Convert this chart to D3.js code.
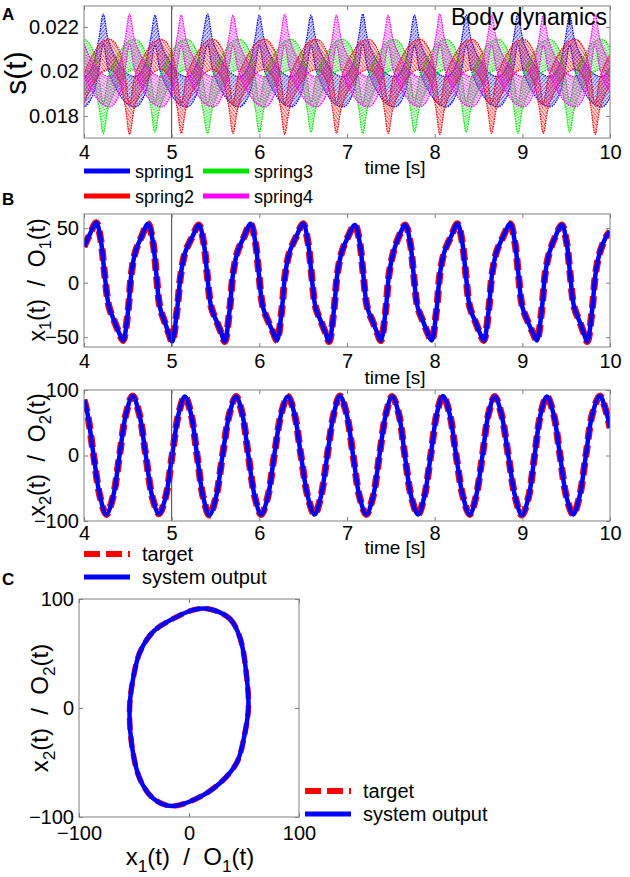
<!DOCTYPE html>
<html>
<head>
<meta charset="utf-8">
<script src="https://cdnjs.cloudflare.com/ajax/libs/d3/7.8.5/d3.min.js"></script>
<style>
  body { margin: 0; background: #fff; }
  svg { display: block; font-family: "Liberation Sans", Arial, Helvetica, sans-serif; }
  .tick text { font-size: 20px; fill: #000; }
  .domain { display: none; }
  .tick line { stroke: #808080; }
  text { white-space: pre; }
</style>
</head>
<body>
<svg id="fig" width="630" height="877"></svg>
<script>
// ---- data ----
var timeTicks = [4, 5, 6, 7, 8, 9, 10];
var sTicks = [0.018, 0.02, 0.022];
var sTickLabels = ['0.018', '0.02', '0.022'];
var x1Ticks = [-50, 0, 50];
var x2Ticks = [-100, 0, 100];
var phaseTicks = [-100, 0, 100];
var springNames = ['spring1', 'spring2', 'spring3', 'spring4'];
var outputNames = ['target', 'system output'];

// Body dynamics: centre of each spring's band [t, s]
var spring1 = [
  [3.63,.02185],[3.69,.0207],[3.79,.0198],[3.91,.0192],[4.01,.0191],[4.10,.0196],[4.17,.0208],
  [4.22,.02190],[4.28,.0207],[4.38,.0198],[4.50,.0192],[4.60,.0191],[4.69,.0196],[4.76,.0208],
  [4.81,.02185],[4.87,.0207],[4.97,.0198],[5.09,.0192],[5.19,.0191],[5.28,.0196],[5.35,.0208],
  [5.41,.02190],[5.47,.0207],[5.57,.0198],[5.69,.0192],[5.79,.0191],[5.88,.0196],[5.95,.0208],
  [6.00,.02185],[6.06,.0207],[6.16,.0198],[6.28,.0192],[6.38,.0191],[6.47,.0196],[6.54,.0208],
  [6.59,.02185],[6.65,.0207],[6.75,.0198],[6.87,.0192],[6.97,.0191],[7.06,.0196],[7.13,.0208],
  [7.18,.02190],[7.24,.0207],[7.34,.0198],[7.46,.0192],[7.56,.0191],[7.65,.0196],[7.72,.0208],
  [7.77,.02185],[7.83,.0207],[7.93,.0198],[8.05,.0192],[8.15,.0191],[8.24,.0196],[8.31,.0208],
  [8.36,.02185],[8.42,.0207],[8.52,.0198],[8.64,.0192],[8.74,.0191],[8.83,.0196],[8.90,.0208],
  [8.95,.02190],[9.01,.0207],[9.11,.0198],[9.23,.0192],[9.33,.0191],[9.42,.0196],[9.49,.0208],
  [9.54,.02185],[9.60,.0207],[9.70,.0198],[9.82,.0192],[9.92,.0191],[10.01,.0196],[10.08,.0208],
  [10.13,.02185]
];
var spring3 = [
  [3.63,.01795],[3.69,.0191],[3.79,.0200],[3.91,.02065],[4.01,.02075],[4.10,.0203],[4.17,.0191],
  [4.22,.01790],[4.28,.0191],[4.38,.0200],[4.50,.02065],[4.60,.02075],[4.69,.0203],[4.76,.0191],
  [4.81,.01795],[4.87,.0191],[4.97,.0200],[5.09,.02065],[5.19,.02075],[5.28,.0203],[5.35,.0191],
  [5.41,.01790],[5.47,.0191],[5.57,.0200],[5.69,.02065],[5.79,.02075],[5.88,.0203],[5.95,.0191],
  [6.00,.01795],[6.06,.0191],[6.16,.0200],[6.28,.02065],[6.38,.02075],[6.47,.0203],[6.54,.0191],
  [6.59,.01795],[6.65,.0191],[6.75,.0200],[6.87,.02065],[6.97,.02075],[7.06,.0203],[7.13,.0191],
  [7.18,.01790],[7.24,.0191],[7.34,.0200],[7.46,.02065],[7.56,.02075],[7.65,.0203],[7.72,.0191],
  [7.77,.01795],[7.83,.0191],[7.93,.0200],[8.05,.02065],[8.15,.02075],[8.24,.0203],[8.31,.0191],
  [8.36,.01795],[8.42,.0191],[8.52,.0200],[8.64,.02065],[8.74,.02075],[8.83,.0203],[8.90,.0191],
  [8.95,.01790],[9.01,.0191],[9.11,.0200],[9.23,.02065],[9.33,.02075],[9.42,.0203],[9.49,.0191],
  [9.54,.01795],[9.60,.0191],[9.70,.0200],[9.82,.02065],[9.92,.02075],[10.01,.0203],[10.08,.0191],
  [10.13,.01795]
];
var spring4 = [
  [3.93,.02185],[3.99,.0207],[4.09,.0198],[4.21,.0192],[4.31,.0191],[4.40,.0196],[4.47,.0208],
  [4.52,.02190],[4.58,.0207],[4.68,.0198],[4.80,.0192],[4.90,.0191],[4.99,.0196],[5.06,.0208],
  [5.11,.02185],[5.17,.0207],[5.27,.0198],[5.39,.0192],[5.49,.0191],[5.58,.0196],[5.65,.0208],
  [5.70,.02185],[5.76,.0207],[5.86,.0198],[5.98,.0192],[6.08,.0191],[6.17,.0196],[6.24,.0208],
  [6.29,.02190],[6.35,.0207],[6.45,.0198],[6.57,.0192],[6.67,.0191],[6.76,.0196],[6.83,.0208],
  [6.88,.02185],[6.94,.0207],[7.04,.0198],[7.16,.0192],[7.26,.0191],[7.35,.0196],[7.42,.0208],
  [7.47,.02185],[7.53,.0207],[7.63,.0198],[7.75,.0192],[7.85,.0191],[7.94,.0196],[8.01,.0208],
  [8.06,.02190],[8.12,.0207],[8.22,.0198],[8.34,.0192],[8.44,.0191],[8.53,.0196],[8.60,.0208],
  [8.65,.02185],[8.71,.0207],[8.81,.0198],[8.93,.0192],[9.03,.0191],[9.12,.0196],[9.19,.0208],
  [9.24,.02185],[9.30,.0207],[9.40,.0198],[9.52,.0192],[9.62,.0191],[9.71,.0196],[9.78,.0208],
  [9.83,.02190],[9.89,.0207],[9.99,.0198],[10.11,.0192]
];
var spring2 = [
  [3.93,.01795],[3.99,.0191],[4.09,.0200],[4.21,.02065],[4.31,.02075],[4.40,.0203],[4.47,.0191],
  [4.52,.01785],[4.58,.0191],[4.68,.0200],[4.80,.02065],[4.90,.02075],[4.99,.0203],[5.06,.0191],
  [5.11,.01790],[5.17,.0191],[5.27,.0200],[5.39,.02065],[5.49,.02075],[5.58,.0203],[5.65,.0191],
  [5.70,.01790],[5.76,.0191],[5.86,.0200],[5.98,.02065],[6.08,.02075],[6.17,.0203],[6.24,.0191],
  [6.29,.01785],[6.35,.0191],[6.45,.0200],[6.57,.02065],[6.67,.02075],[6.76,.0203],[6.83,.0191],
  [6.88,.01790],[6.94,.0191],[7.04,.0200],[7.16,.02065],[7.26,.02075],[7.35,.0203],[7.42,.0191],
  [7.47,.01790],[7.53,.0191],[7.63,.0200],[7.75,.02065],[7.85,.02075],[7.94,.0203],[8.01,.0191],
  [8.06,.01785],[8.12,.0191],[8.22,.0200],[8.34,.02065],[8.44,.02075],[8.53,.0203],[8.60,.0191],
  [8.65,.01790],[8.71,.0191],[8.81,.0200],[8.93,.02065],[9.03,.02075],[9.12,.0203],[9.19,.0191],
  [9.24,.01790],[9.30,.0191],[9.40,.0200],[9.52,.02065],[9.62,.02075],[9.71,.0203],[9.78,.0191],
  [9.83,.01785],[9.89,.0191],[9.99,.0200],[10.11,.02065]
];

// locomotion output x1(t) [t, value]
var x1Series = [
  [4.00,33],[4.07,45],[4.14,55],
  [4.19,40],[4.235,8],[4.285,-22],[4.35,-36],[4.40,-46],[4.445,-53],
  [4.50,-28],[4.54,8],[4.585,28],[4.655,42],[4.73,54],
  [4.785,38],[4.825,8],[4.865,-22],[4.925,-37],[4.965,-46],[5.005,-54],
  [5.06,-26],[5.105,8],[5.155,28],[5.235,42],[5.31,53],
  [5.365,37],[5.405,8],[5.45,-22],[5.52,-37],[5.565,-46],[5.605,-54],
  [5.66,-26],[5.70,8],[5.75,28],[5.825,42],[5.90,54],
  [5.955,37],[5.995,8],[6.04,-22],[6.11,-37],[6.16,-46],[6.20,-53],
  [6.255,-26],[6.295,8],[6.345,28],[6.42,42],[6.50,54],
  [6.555,37],[6.595,8],[6.64,-22],[6.71,-37],[6.755,-46],[6.795,-54],
  [6.85,-26],[6.89,8],[6.94,28],[7.01,42],[7.09,53],
  [7.145,37],[7.185,8],[7.23,-22],[7.30,-37],[7.345,-46],[7.385,-53],
  [7.44,-26],[7.48,8],[7.53,28],[7.59,42],[7.665,53],
  [7.72,37],[7.76,8],[7.805,-22],[7.875,-37],[7.92,-46],[7.965,-53],
  [8.02,-26],[8.06,8],[8.11,28],[8.185,42],[8.26,54],
  [8.315,37],[8.355,8],[8.40,-22],[8.47,-37],[8.515,-46],[8.56,-53],
  [8.615,-26],[8.655,8],[8.705,28],[8.78,42],[8.86,54],
  [8.915,37],[8.955,8],[9.00,-22],[9.07,-37],[9.12,-46],[9.165,-53],
  [9.22,-26],[9.26,8],[9.31,28],[9.375,42],[9.45,53],
  [9.505,37],[9.545,8],[9.59,-22],[9.66,-37],[9.70,-46],[9.74,-54],
  [9.795,-26],[9.835,8],[9.885,28],[9.955,42],[10.0,47]
];

// locomotion output x2(t) [t, value]
var x2Series = [
  [4.00,85],[4.04,64],[4.11,0],[4.185,-64],[4.255,-90],
  [4.33,-64],[4.405,0],[4.48,64],[4.555,91],
  [4.63,64],[4.705,0],[4.78,-64],[4.855,-89],
  [4.93,-64],[5.005,0],[5.08,64],[5.15,90],
  [5.22,64],[5.29,0],[5.36,-64],[5.43,-91],
  [5.505,-64],[5.58,0],[5.66,64],[5.735,90],
  [5.805,64],[5.875,0],[5.95,-64],[6.02,-90],
  [6.095,-64],[6.17,0],[6.25,64],[6.325,90],
  [6.40,64],[6.475,0],[6.555,-64],[6.63,-90],
  [6.70,-64],[6.775,0],[6.85,64],[6.92,91],
  [6.995,64],[7.07,0],[7.145,-64],[7.22,-90],
  [7.295,-64],[7.37,0],[7.445,64],[7.515,90],
  [7.59,64],[7.66,0],[7.735,-64],[7.81,-90],
  [7.88,-64],[7.955,0],[8.025,64],[8.095,91],
  [8.17,64],[8.245,0],[8.325,-64],[8.40,-90],
  [8.47,-64],[8.545,0],[8.615,64],[8.685,90],
  [8.76,64],[8.84,0],[8.92,-64],[8.995,-91],
  [9.07,-64],[9.14,0],[9.21,64],[9.28,90],
  [9.355,64],[9.43,0],[9.505,-64],[9.58,-90],
  [9.65,-64],[9.725,0],[9.80,64],[9.885,91],
  [9.95,70],[10.0,42]
];

// phase plot loop x1 vs x2
var phaseX1 = [17, 37, 46.5, 52.6, 54, 51, 43.5, 28, 7, -16, -32.5, -44.7, -52, -54, -50.8, -44.7, -32.5, -14.3, 4];
var phaseX2 = [91, 82, 64, 27, 0, -22, -50, -69, -83, -90, -83, -65, -34, 0, 27, 51, 70, 82, 90];

// ---- drawing ----
var svg = d3.select('#fig');
svg.append('rect').attr('width', 630).attr('height', 877).attr('fill', '#fff');
var defs = svg.append('defs');

var springColor = { spring1: '#0000ff', spring2: '#ff0000', spring3: '#00e600', spring4: '#ff00ff' };
var TGT = '#ff0000', OUT = '#0000ff';

function frame(x, y, xt, yt, xfmt, yfmt, padX) {
  var g = svg.append('g');
  var xr = x.range(), yr = y.range();
  g.append('g').attr('transform', 'translate(0,' + yr[0] + ')')
    .call(d3.axisBottom(x).tickValues(xt).tickSize(-4).tickPadding(padX || 7).tickFormat(xfmt));
  g.append('g').attr('transform', 'translate(0,' + yr[1] + ')')
    .call(d3.axisTop(x).tickValues(xt).tickSize(-4).tickFormat(''));
  g.append('g').attr('transform', 'translate(' + xr[0] + ',0)')
    .call(d3.axisLeft(y).tickValues(yt).tickSize(-4).tickPadding(5).tickFormat(yfmt));
  g.append('g').attr('transform', 'translate(' + xr[1] + ',0)')
    .call(d3.axisRight(y).tickValues(yt).tickSize(-4).tickFormat(''));
  g.append('rect')
    .attr('x', xr[0]).attr('y', yr[1])
    .attr('width', xr[1] - xr[0]).attr('height', yr[0] - yr[1])
    .attr('fill', 'none').attr('stroke', '#808080').attr('stroke-width', 1);
  return g;
}

function clipFor(id, x, y) {
  var xr = x.range(), yr = y.range();
  defs.append('clipPath').attr('id', id).append('rect')
    .attr('x', xr[0]).attr('y', yr[1])
    .attr('width', xr[1] - xr[0]).attr('height', yr[0] - yr[1]);
  return 'url(#' + id + ')';
}

function marker5(x, y) {
  svg.append('line')
    .attr('x1', x(5)).attr('x2', x(5))
    .attr('y1', y.range()[0]).attr('y2', y.range()[1])
    .attr('stroke', '#444').attr('stroke-width', 1);
}

// text with subscripts: parts = [[text, isSub], ...]
function subText(sel, parts, fs) {
  var shift = fs * 0.28;
  var down = false;
  parts.forEach(function (p) {
    var t = sel.append('tspan').text(p[0]);
    if (p[1]) { t.attr('font-size', fs * 0.72).attr('dy', shift); down = true; }
    else if (down) { t.attr('dy', -shift); down = false; }
  });
}

function timeLabel(yBase) {
  svg.append('text').attr('x', 395).attr('y', yBase)
    .attr('text-anchor', 'middle').attr('font-size', 19).text('time [s]');
}

function panelLetter(letter, yBase) {
  svg.append('text').attr('x', 2).attr('y', yBase)
    .attr('font-size', 17).attr('font-weight', 'bold').text(letter);
}

// ===== Panel A =====
var xA = d3.scaleLinear().domain([4, 10]).range([84, 610]);
var yA = d3.scaleLinear().domain([0.01701, 0.02294]).range([138, 6]);
var clipA = clipFor('clipA', xA, yA);
var bandHalf = 0.00068;

var hatchAngle = { spring1: 40, spring2: -35, spring3: 65, spring4: -60 };
springNames.forEach(function (name) {
  var p = defs.append('pattern').attr('id', 'hatch-' + name)
    .attr('patternUnits', 'userSpaceOnUse')
    .attr('width', 2.6).attr('height', 3)
    .attr('patternTransform', 'rotate(' + hatchAngle[name] + ')');
  p.append('line').attr('x1', 0.5).attr('y1', 0).attr('x2', 0.5).attr('y2', 3)
    .attr('stroke', springColor[name]).attr('stroke-width', 1)
    .attr('stroke-dasharray', '1.3,0.6');
});

var bandData = { spring1: spring1, spring2: spring2, spring3: spring3, spring4: spring4 };
var curve = d3.curveCatmullRom.alpha(0.5);
var area = d3.area()
  .x(function (d) { return xA(d[0]); })
  .y0(function (d) { return yA(d[1] - bandHalf); })
  .y1(function (d) { return yA(d[1] + bandHalf); })
  .curve(curve);
var edgeHi = d3.line().x(function (d) { return xA(d[0]); })
  .y(function (d) { return yA(d[1] + bandHalf); }).curve(curve);
var edgeLo = d3.line().x(function (d) { return xA(d[0]); })
  .y(function (d) { return yA(d[1] - bandHalf); }).curve(curve);

var gA = svg.append('g').attr('clip-path', clipA);
['spring1', 'spring3', 'spring2', 'spring4'].forEach(function (name) {
  var d = bandData[name];
  gA.append('path').attr('d', area(d)).attr('fill', springColor[name]).attr('fill-opacity', 0.15);
  gA.append('path').attr('d', area(d)).attr('fill', 'url(#hatch-' + name + ')').attr('opacity', 0.7);
  [edgeHi, edgeLo].forEach(function (gen) {
    gA.append('path').attr('d', gen(d)).attr('fill', 'none')
      .attr('stroke', springColor[name]).attr('stroke-width', 1.2)
      .attr('stroke-dasharray', '1.5,1');
  });
});
marker5(xA, yA);
frame(xA, yA, timeTicks, sTicks, d3.format('d'), function (d, i) { return sTickLabels[i]; });

svg.append('text').attr('x', 607).attr('y', 25).attr('text-anchor', 'end')
  .attr('font-size', 23).text('Body dynamics');
svg.append('text').attr('transform', 'translate(26,73) rotate(-90)')
  .attr('text-anchor', 'middle').attr('font-size', 30).text('s(t)');
timeLabel(174);
panelLetter('A', 20);

// legend A (2 x 2)
var legA = [
  { name: 'spring1', x: 84, y: 171 },
  { name: 'spring3', x: 203, y: 171 },
  { name: 'spring2', x: 84, y: 196 },
  { name: 'spring4', x: 203, y: 196 }
];
legA.forEach(function (d) {
  svg.append('line').attr('x1', d.x).attr('x2', d.x + 46).attr('y1', d.y).attr('y2', d.y)
    .attr('stroke', springColor[d.name]).attr('stroke-width', 5);
  svg.append('text').attr('x', d.x + 51).attr('y', d.y + 7).attr('font-size', 18).text(d.name);
});

// ===== Panel B =====
var line = function (x, y) {
  return d3.line().x(function (d) { return x(d[0]); }).y(function (d) { return y(d[1]); })
    .curve(d3.curveCatmullRom.alpha(0.5));
};

function drawPair(g, path, wT) {
  g.append('path').attr('d', path).attr('fill', 'none')
    .attr('stroke', TGT).attr('stroke-width', wT).attr('stroke-dasharray', '12,6');
  g.append('path').attr('d', path).attr('fill', 'none')
    .attr('stroke', OUT).attr('stroke-width', 4.5).attr('stroke-linejoin', 'round');
}

var xB = d3.scaleLinear().domain([4, 10]).range([84, 610]);
var yB1 = d3.scaleLinear().domain([-59, 63]).range([347, 214]);
var gB1 = svg.append('g').attr('clip-path', clipFor('clipB1', xB, yB1));
drawPair(gB1, line(xB, yB1)(x1Series), 7);
marker5(xB, yB1);
frame(xB, yB1, timeTicks, x1Ticks, d3.format('d'), d3.format('d'));
var lb1 = svg.append('text').attr('transform', 'translate(45,280) rotate(-90)')
  .attr('text-anchor', 'middle').attr('font-size', 23);
subText(lb1, [['x', false], ['1', true], ['(t)  /  O', false], ['1', true], ['(t)', false]], 23);
timeLabel(384);
panelLetter('B', 205);

var yB2 = d3.scaleLinear().domain([-100, 100]).range([521, 390]);
var gB2 = svg.append('g').attr('clip-path', clipFor('clipB2', xB, yB2));
drawPair(gB2, line(xB, yB2)(x2Series), 7);
marker5(xB, yB2);
frame(xB, yB2, timeTicks, x2Ticks, d3.format('d'), d3.format('d'), 5);
var lb2 = svg.append('text').attr('transform', 'translate(45,455) rotate(-90)')
  .attr('text-anchor', 'middle').attr('font-size', 23);
subText(lb2, [['x', false], ['2', true], ['(t)  /  O', false], ['2', true], ['(t)', false]], 23);
timeLabel(554);

function outLegend(x0, y0, fs) {
  outputNames.forEach(function (name, i) {
    var yy = y0 + i * 23;
    var l = svg.append('line').attr('x1', x0).attr('x2', x0 + 46).attr('y1', yy).attr('y2', yy)
      .attr('stroke', i === 0 ? TGT : OUT).attr('stroke-width', i === 0 ? 6 : 5);
    if (i === 0) l.attr('stroke-dasharray', '16,6');
    svg.append('text').attr('x', x0 + 58).attr('y', yy + 7).attr('font-size', fs).text(name);
  });
}
outLegend(84, 554, 20);

// ===== Panel C =====
var xC = d3.scaleLinear().domain([-100, 100]).range([79, 299]);
var yC = d3.scaleLinear().domain([-100, 100]).range([817, 599]);
var loop = d3.zip(phaseX1, phaseX2);
var loopPath = d3.line().x(function (d) { return xC(d[0]); }).y(function (d) { return yC(d[1]); })
  .curve(d3.curveCatmullRomClosed.alpha(0.5))(loop);
var gC = svg.append('g').attr('clip-path', clipFor('clipC', xC, yC));
drawPair(gC, loopPath, 5.5);
frame(xC, yC, phaseTicks, phaseTicks, d3.format('d'), d3.format('d'), 9);
var lcx = svg.append('text').attr('x', 190).attr('y', 865)
  .attr('text-anchor', 'middle').attr('font-size', 24);
subText(lcx, [['x', false], ['1', true], ['(t)  /  O', false], ['1', true], ['(t)', false]], 24);
var lcy = svg.append('text').attr('transform', 'translate(48,708) rotate(-90)')
  .attr('text-anchor', 'middle').attr('font-size', 24);
subText(lcy, [['x', false], ['2', true], ['(t)  /  O', false], ['2', true], ['(t)', false]], 24);
panelLetter('C', 585);
outLegend(305, 791, 20);
</script>
</body>
</html>
